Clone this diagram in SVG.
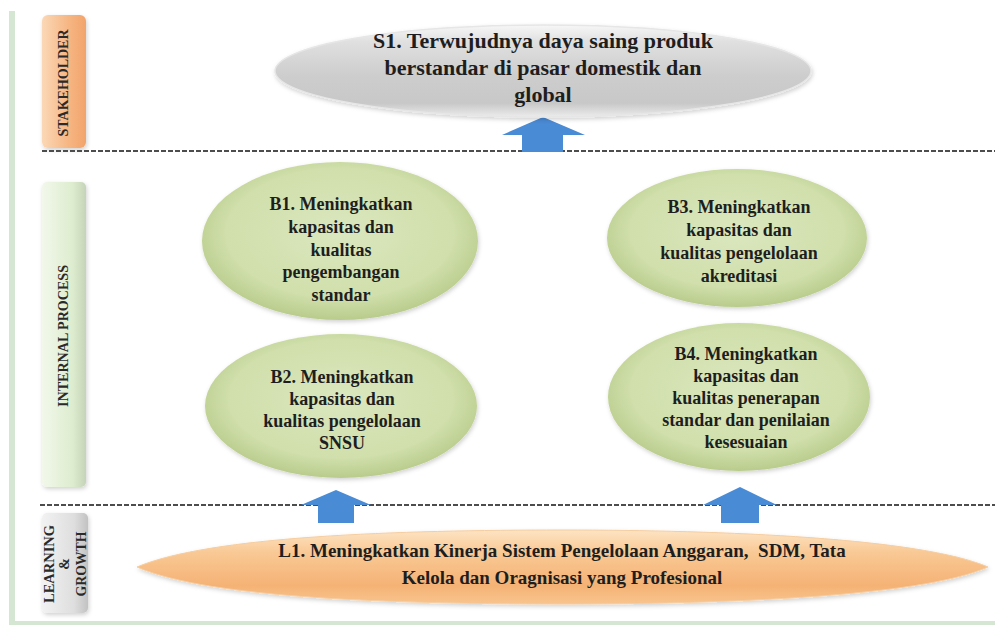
<svg xmlns="http://www.w3.org/2000/svg" width="995" height="630" viewBox="0 0 995 630">
<defs>
<style>
.t{font-family:"Liberation Serif","Times New Roman",serif;font-weight:bold;fill:#1e1e1e;text-anchor:middle}
.lbl{font-family:"Liberation Serif","Times New Roman",serif;font-weight:bold;fill:#2a2a2a;text-anchor:middle;font-size:14px}
.dash{stroke:#4d4d4d;stroke-width:2.2;stroke-dasharray:5 2;fill:none}
.arrow{fill:#4a8bd5}
.green{fill:url(#gGreen)}
</style>
<radialGradient id="gGreen" cx="50%" cy="45%" r="55%">
<stop offset="0" stop-color="#dbe7bf"/>
<stop offset="0.75" stop-color="#d0dfab"/>
<stop offset="1" stop-color="#b9cc8c"/>
</radialGradient>
<linearGradient id="gGrey" x1="0" y1="0" x2="0" y2="1">
<stop offset="0" stop-color="#f7f7f7"/>
<stop offset="0.18" stop-color="#e0e0e0"/>
<stop offset="0.55" stop-color="#cdcdcd"/>
<stop offset="0.85" stop-color="#c8c8c8"/>
<stop offset="1" stop-color="#ececec"/>
</linearGradient>
<linearGradient id="gOrange" x1="0" y1="0" x2="0" y2="1">
<stop offset="0" stop-color="#fde4c4"/>
<stop offset="0.3" stop-color="#f9c995"/>
<stop offset="0.75" stop-color="#f5b275"/>
<stop offset="1" stop-color="#f8c48e"/>
</linearGradient>
<linearGradient id="gLblOrange" x1="0" y1="0" x2="1" y2="0">
<stop offset="0" stop-color="#fbd8b6"/>
<stop offset="0.6" stop-color="#f6b683"/>
<stop offset="1" stop-color="#f2a46a"/>
</linearGradient>
<linearGradient id="gLblGreen" x1="0" y1="0" x2="1" y2="0">
<stop offset="0" stop-color="#f2f8eb"/>
<stop offset="0.7" stop-color="#ddecce"/>
<stop offset="1" stop-color="#c5d3b8"/>
</linearGradient>
<linearGradient id="gLblGrey" x1="0" y1="0" x2="1" y2="0">
<stop offset="0" stop-color="#f2f2f2"/>
<stop offset="0.7" stop-color="#dedede"/>
<stop offset="1" stop-color="#c2c2c2"/>
</linearGradient>
<filter id="sh" x="-10%" y="-10%" width="120%" height="130%">
<feDropShadow dx="1" dy="2" stdDeviation="2" flood-color="#000" flood-opacity="0.18"/>
</filter>
</defs>
<rect width="995" height="630" fill="#ffffff"/>

<!-- frame -->
<rect x="9" y="11" width="6" height="614" fill="#d5e6d2"/>
<rect x="9" y="621" width="986" height="4" fill="#d5e6d2"/>

<!-- perspective labels -->
<g id="lbl-stakeholder">
<rect x="42" y="15" width="44" height="133" rx="6" fill="url(#gLblOrange)" filter="url(#sh)"/>
<text class="lbl" transform="translate(68,83) rotate(-90)" font-size="15" textLength="107" lengthAdjust="spacingAndGlyphs">STAKEHOLDER</text>
</g>
<g id="lbl-internal">
<rect x="42" y="182" width="44" height="305" rx="5" fill="url(#gLblGreen)" filter="url(#sh)"/>
<text class="lbl" transform="translate(68,336) rotate(-90)" textLength="142" lengthAdjust="spacingAndGlyphs">INTERNAL PROCESS</text>
</g>
<g id="lbl-learning">
<rect x="42" y="513" width="46" height="100" rx="5" fill="url(#gLblGrey)" filter="url(#sh)"/>
<text class="lbl" transform="translate(0,564) rotate(-90)" font-size="13"><tspan x="0" y="54" textLength="78" lengthAdjust="spacingAndGlyphs">LEARNING</tspan><tspan x="0" y="69">&amp;</tspan><tspan x="0" y="86" textLength="65" lengthAdjust="spacingAndGlyphs">GROWTH</tspan></text>
</g>

<!-- connectors: dashed separators and arrows -->
<g id="connectors">
<line class="dash" x1="42" y1="151" x2="995" y2="151"/>
<line class="dash" x1="40" y1="505" x2="995" y2="505"/>
<polygon class="arrow" points="543,117 585,135 563,135 563,152 522,152 522,135 502,135"/>
<polygon class="arrow" points="336,490 371,505 354,505 354,523 318,523 318,505 301,505"/>
<polygon class="arrow" points="740,487 777,505 759,505 759,523 721,523 721,505 703,505"/>
</g>

<g id="S1">
<ellipse cx="543" cy="71" rx="268" ry="46" fill="url(#gGrey)" stroke="#e6e6e6" stroke-width="1.5" filter="url(#sh)"/>
<text class="t" font-size="22"><tspan x="543" y="48">S1. Terwujudnya daya saing produk</tspan><tspan x="543" y="75">berstandar di pasar domestik dan</tspan><tspan x="543" y="102">global</tspan></text>
</g>

<g id="B1">
<ellipse class="green" cx="340" cy="241" rx="138" ry="79" filter="url(#sh)"/>
<text class="t" font-size="18"><tspan x="341" y="210">B1. Meningkatkan</tspan><tspan x="341" y="233">kapasitas dan</tspan><tspan x="341" y="256">kualitas</tspan><tspan x="341" y="278">pengembangan</tspan><tspan x="341" y="301">standar</tspan></text>
</g>

<g id="B2">
<ellipse class="green" cx="341" cy="406" rx="136" ry="72" filter="url(#sh)"/>
<text class="t" font-size="18"><tspan x="342" y="383">B2. Meningkatkan</tspan><tspan x="342" y="405">kapasitas dan</tspan><tspan x="342" y="427">kualitas pengelolaan</tspan><tspan x="342" y="449">SNSU</tspan></text>
</g>

<g id="B3">
<ellipse class="green" cx="737" cy="238" rx="130" ry="69" filter="url(#sh)"/>
<text class="t" font-size="18"><tspan x="739" y="213">B3. Meningkatkan</tspan><tspan x="739" y="236">kapasitas dan</tspan><tspan x="739" y="259">kualitas pengelolaan</tspan><tspan x="739" y="282">akreditasi</tspan></text>
</g>

<g id="B4">
<ellipse class="green" cx="739" cy="397" rx="131" ry="74" filter="url(#sh)"/>
<text class="t" font-size="18"><tspan x="746" y="360">B4. Meningkatkan</tspan><tspan x="746" y="382">kapasitas dan</tspan><tspan x="746" y="404">kualitas penerapan</tspan><tspan x="746" y="426">standar dan penilaian</tspan><tspan x="746" y="448">kesesuaian</tspan></text>
</g>

<g id="L1">
<path d="M137,567 C210,536 400,530 562,530 C724,530 920,538 988,567 C920,597 724,604 562,604 C400,604 210,599 137,567 Z" fill="url(#gOrange)" stroke="#f6cda0" stroke-width="1" filter="url(#sh)"/>
<text class="t" font-size="19"><tspan x="562" y="557">L1. Meningkatkan Kinerja Sistem Pengelolaan Anggaran,&#160; SDM, Tata</tspan><tspan x="562" y="584">Kelola dan Oragnisasi yang Profesional</tspan></text>
</g>
</svg>
